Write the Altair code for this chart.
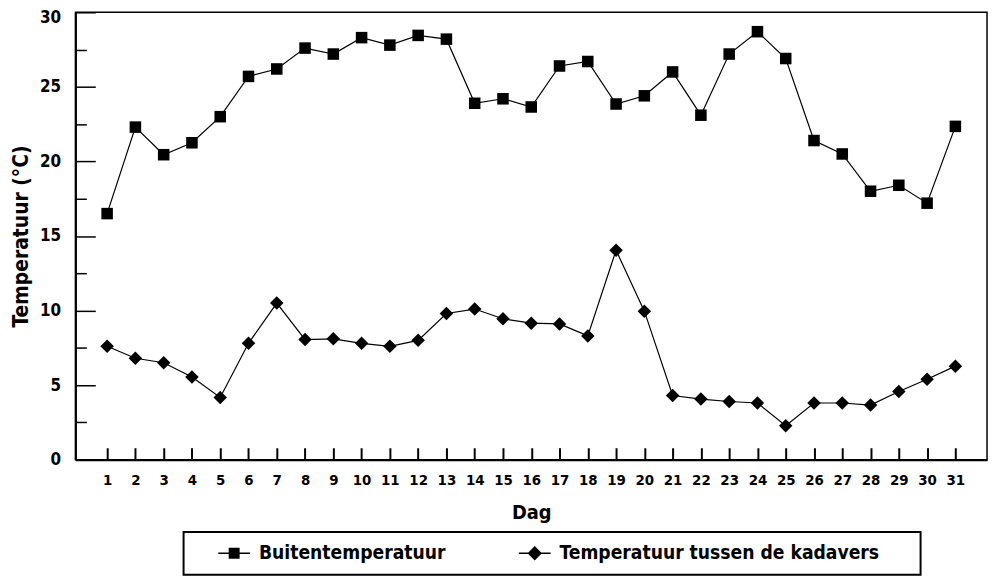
import altair as alt
import pandas as pd

days = list(range(1, 32))
buiten = [16.5, 22.3, 20.45, 21.25, 23.0, 25.7, 26.2, 27.6, 27.2, 28.3, 27.8, 28.45, 28.2,
          23.9, 24.2, 23.65, 26.4, 26.7, 23.85, 24.4, 26.0, 23.1, 27.2, 28.7, 26.9, 21.4,
          20.5, 18.0, 18.4, 17.2, 22.35]
kadavers = [7.6, 6.8, 6.5, 5.55, 4.17, 7.8, 10.5, 8.05, 8.1, 7.8, 7.6, 8.0, 9.8, 10.1, 9.45,
            9.15, 9.1, 8.3, 14.04, 9.96, 4.3, 4.06, 3.9, 3.8, 2.28, 3.8, 3.8, 3.66, 4.57,
            5.39, 6.27]
series_names = ["Buitentemperatuur", "Temperatuur tussen de kadavers"]
y_major = [0, 5, 10, 15, 20, 25, 30]
y_all_ticks = [0, 2.5, 5, 7.5, 10, 12.5, 15, 17.5, 20, 22.5, 25, 27.5, 30]

df = pd.DataFrame({
    "Dag": days * 2,
    "Temp": buiten + kadavers,
    "Serie": [series_names[0]] * len(days) + [series_names[1]] * len(days),
})

FONT = "'DejaVu Sans Condensed', 'Liberation Sans Narrow', 'Roboto Condensed', 'Liberation Sans', sans-serif"
W, H = 919, 451

xscale = alt.Scale(domain=[-0.12, 32.12], nice=False, zero=False)
yscale = alt.Scale(domain=[0, 30], nice=False)

base = alt.Chart(df)

lines = base.mark_line(color="black", strokeWidth=1.2).encode(
    x=alt.X("Dag:Q", scale=xscale, axis=alt.Axis(
        orient="bottom", values=days, ticks=False, grid=False, format="d",
        labelFont=FONT, labelFontSize=15, labelFontWeight="bold", labelColor="black",
        labelPadding=13, domainColor="black", domainWidth=2,
        title="Dag", titleFont=FONT, titleFontSize=20, titleFontWeight="bold",
        titleColor="black", titlePadding=15)),
    y=alt.Y("Temp:Q", scale=yscale, axis=alt.Axis(
        orient="left", values=y_major, ticks=False, grid=False,
        labelFont=FONT, labelFontSize=17, labelFontWeight="bold", labelColor="black",
        labelPadding=15, domainColor="black", domainWidth=2,
        labelOffset={"condition": {"test": "datum.value == 30", "value": 5}, "value": 0},
        title="Temperatuur (°C)", titleFont=FONT, titleFontSize=21, titleFontWeight="bold",
        titleColor="black", titlePadding=8)),
    detail="Serie:N",
)

squares = base.transform_filter(alt.datum.Serie == series_names[0]).mark_point(
    shape="square", filled=True, color="black", size=135, opacity=1
).encode(
    x=alt.X("Dag:Q", scale=xscale, axis=alt.Axis(
        orient="top", offset=-H, values=days, labels=False, grid=False, domain=False,
        tickSize=12, tickColor="black", tickWidth=2, title=None)),
    y=alt.Y("Temp:Q", scale=yscale, axis=alt.Axis(
        orient="right", offset=-W, values=y_all_ticks, labels=False, grid=False, domain=False,
        tickSize={"condition": {"test": "datum.value % 5 === 0", "value": 20}, "value": 11},
        tickColor="black", tickWidth=1.5, title=None)),
)

diamonds = base.transform_filter(alt.datum.Serie == series_names[1]).mark_point(
    shape="diamond", filled=True, color="black", size=185, opacity=1
).encode(
    x=alt.X("Dag:Q", scale=xscale, axis=None),
    y=alt.Y("Temp:Q", scale=yscale, axis=None),
)

# legend symbols: a thin bar (the line) plus the marker, all filled
sq_path = "M-1.6,-0.075H1.6V0.075H-1.6Z M-0.55,-0.55H0.55V0.55H-0.55Z"
dm_path = "M-1.6,-0.075H1.6V0.075H-1.6Z M0,-0.72L0.72,0L0,0.72L-0.72,0Z"

blank = "\u2800\u2009\u2800"

legend_layer = base.mark_point(
    filled=True, color="black", opacity=0
).encode(
    x=alt.X("Dag:Q", scale=xscale, axis=None),
    y=alt.Y("Temp:Q", scale=yscale, axis=None),
    shape=alt.Shape("Serie:N", scale=alt.Scale(domain=series_names, range=[sq_path, dm_path]),
                    legend=alt.Legend(
                        orient="none", legendX=109, legendY=524, direction="horizontal",
                        title=" ", titleOrient="left", titleFontSize=20, titlePadding=24,
                        titleFont=FONT,
                        padding=11, strokeColor="black",
                        symbolSize=400, symbolOffset=6, labelOffset=15,
                        symbolFillColor="black", symbolStrokeColor="black",
                        symbolStrokeWidth=0, symbolOpacity=1,
                        labelFont=FONT, labelFontSize=19.3, labelFontWeight="bold",
                        labelColor="black", labelLimit=0, columnPadding=73,
                        labelExpr="datum.label + (datum.value == '" + series_names[1] + "' ? '" + blank + "' : '')",
                    )),
)

chart = alt.layer(lines, squares, diamonds, legend_layer).resolve_axis(
    x="independent", y="independent"
).properties(
    width=W, height=H,
    autosize=alt.AutoSizeParams(type="none"),
    padding={"left": 68, "top": 2, "right": 5, "bottom": 120},
).configure_view(
    stroke="black", strokeWidth=1.5
).configure_legend(
    strokeWidth=2
)

chart.save("out.html", embed_options={"renderer": "svg", "actions": False})
